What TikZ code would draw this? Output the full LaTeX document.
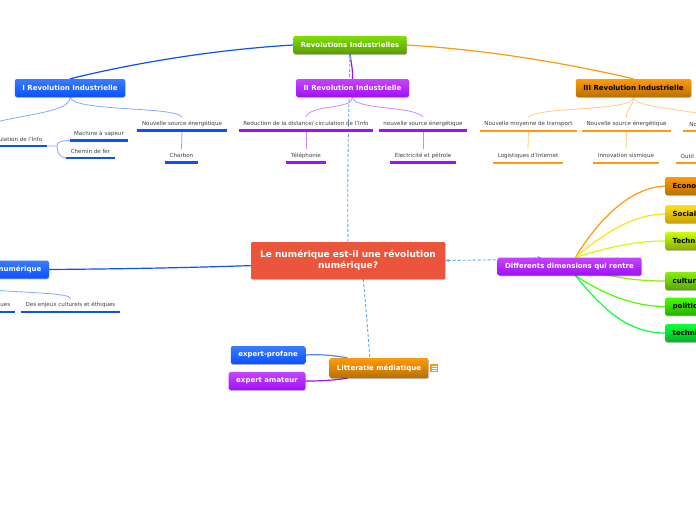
\documentclass[tikz,border=0pt]{standalone}
\usepackage{fontspec}
\setmainfont{DejaVu Sans}
\usepackage{tikz}
\usetikzlibrary{arrows.meta, shadows, backgrounds}

\definecolor{mapblue}{HTML}{0A50FF}
\definecolor{mapbluetop}{HTML}{3A7CFF}
\definecolor{mappurple}{HTML}{A010F8}
\definecolor{mappurpletop}{HTML}{C445FF}
\definecolor{maporange}{HTML}{FF9A0A}
\definecolor{maporangelow}{HTML}{B87000}
\definecolor{mapgreentop}{HTML}{7EE000}
\definecolor{mapgreenlow}{HTML}{5A9C00}
\definecolor{mapyellow}{HTML}{FFE21A}
\definecolor{mapyellowlow}{HTML}{C4A400}
\definecolor{maplime}{HTML}{CCFF00}
\definecolor{maplimelow}{HTML}{88AC00}
\definecolor{mapleaf}{HTML}{88EE10}
\definecolor{mapleaflow}{HTML}{58A800}
\definecolor{mapgrass}{HTML}{48FF00}
\definecolor{mapgrasslow}{HTML}{24AE00}
\definecolor{mapmint}{HTML}{0CFF3A}
\definecolor{mapmintlow}{HTML}{00B428}
\definecolor{mapred}{HTML}{EA553C}
\definecolor{mapdash}{HTML}{5AA8E8}

\tikzset{
  topicbox/.style 2 args={rectangle, rounded corners=2pt, top color=#1, bottom color=#2,
    minimum height=18pt, inner xsep=7.5pt, inner ysep=0pt, text=white,
    font=\fontsize{7}{8.5}\selectfont\bfseries,
    drop shadow={shadow xshift=0.5pt, shadow yshift=-0.8pt, opacity=0.25, fill=black}},
  leaf/.style={inner xsep=4.5pt, inner ysep=0pt, minimum height=13pt, anchor=south, text=black!75,
    font=\fontsize{5.55}{6}\selectfont, append after command={
      (\tikzlastnode.south west) edge[line width=2.4pt, #1] (\tikzlastnode.south east)}},
  link/.style={line width=1.2pt, #1},
  sublink/.style={line width=0.8pt, #1!50},
  dashlink/.style={line width=0.9pt, mapdash, dash pattern=on 3pt off 2pt},
}

\begin{document}
\begin{tikzpicture}[x=1pt, y=-1pt]
  \path[use as bounding box, clip] (0,0) rectangle (696,520);

  % Centre
  \node[rectangle, rounded corners=1pt, fill=mapred, text=white, align=center,
    minimum width=194pt, minimum height=37pt, inner sep=0pt, font=\fontsize{9}{11}\selectfont\bfseries,
    drop shadow={shadow xshift=0.5pt, shadow yshift=-0.8pt, opacity=0.25, fill=black}] (root) at (348,260.5)
    {Le numérique est-il une révolution\\numérique?};

  % Revolutions
  \node[topicbox={mapgreentop}{mapgreenlow}] (top) at (350,45) {Revolutions Industrielles};
  \node[topicbox={mapbluetop}{mapblue}] (irev) at (70,88) {I Revolution Industrielle};
  \node[topicbox={mappurpletop}{mappurple}] (iirev) at (352.5,88) {II Revolution Industrielle};
  \node[topicbox={maporange}{maporangelow}, text=black] (iiirev) at (633.5,88) {III Revolution Industrielle};

  % Branches I
  \coordinate (circtop) at (-12,124);
  \coordinate (circfork) at (57,146);
  \node[leaf=mapblue, anchor=south east] (circ) at (47,146) {ulation de l'Info};
  \node[leaf=mapblue] (vapeur) at (99,140.5) {Machine à vapeur};
  \node[leaf=mapblue] (fer) at (90.5,158) {Chemin de fer};
  \node[leaf=mapblue] (sourcei) at (182,130.5) {Nouvelle source énergétique};
  \node[leaf=mapblue] (charbon) at (181.5,162.5) {Charbon};

  % Branches II
  \node[leaf=mappurple] (reduc) at (306,130.5) {Reduction de la distance/ circulation de l'Info};
  \node[leaf=mappurple] (sourceii) at (423,130.5) {nouvelle source énergétique};
  \node[leaf=mappurple] (tel) at (306,162.5) {Téléphonie};
  \node[leaf=mappurple] (elec) at (423,162.5) {Electricité et pétrole};

  % Branches III
  \coordinate (noutop) at (702,114);
  \node[leaf=maporange] (trans) at (528.5,131) {Nouvelle moyenne de transport};
  \node[leaf=maporange] (sourceiii) at (626.5,131) {Nouvelle source énergétique};
  \node[leaf=maporange, anchor=south west, minimum width=20pt, align=left] (nou) at (683,131) {No};
  \node[leaf=maporange] (logi) at (528,163) {Logistiques d'Internet};
  \node[leaf=maporange] (sism) at (626,163) {Innovation sismique};
  \node[leaf=maporange, anchor=south west] (outil) at (676,163) {Outil};

  % Numerique a gauche
  \coordinate (numtop) at (-8,290);
  \node[topicbox={mapbluetop}{mapblue}, anchor=east] (num) at (49,269.5) {numérique};
  \node[leaf=mapblue, anchor=south east] (ues) at (15,312) {ues};
  \node[leaf=mapblue] (enjeux) at (70.5,312) {Des enjeux culturels et éthiques};

  % Dimensions a droite
  \node[topicbox={mappurpletop}{mappurple}] (diff) at (569.5,266.5) {Differents dimensions qui rentre};
  \node[topicbox={maporange}{maporangelow}, text=black, anchor=west] (econ) at (665,186) {Econo};
  \node[topicbox={mapyellow}{mapyellowlow}, text=black, anchor=west] (soc) at (665,214) {Social};
  \node[topicbox={maplime}{maplimelow}, text=black, anchor=west] (tech) at (665,241) {Techn};
  \node[topicbox={mapleaf}{mapleaflow}, text=black, anchor=west] (cult) at (665,281) {cultur};
  \node[topicbox={mapgrass}{mapgrasslow}, text=black, anchor=west] (poli) at (665,306.5) {politic};
  \node[topicbox={mapmint}{mapmintlow}, text=black, anchor=west] (techni) at (665,333) {techni};

  % Litteratie
  \node[topicbox={maporange}{maporangelow}, minimum height=20pt] (lit) at (379,368) {Litteratie médiatique};
  \node[topicbox={mapbluetop}{mapblue}] (profane) at (268,355) {expert-profane};
  \node[topicbox={mappurpletop}{mappurple}] (amateur) at (267,381) {expert amateur};
  \node[fill=maporange, minimum size=8pt, inner sep=0pt] (notes) at (434,368) {};
  \draw[white, line width=0.4pt] (431.5,366) -- (436.5,366) (431.5,368) -- (436.5,368) (431.5,370) -- (436.5,370);

  \begin{scope}[on background layer]
  \fill[white] (0,0) rectangle (696,520);

  % Liens pointilles
  \draw[dashlink] (root.north) .. controls (347,170) and (349,110) .. (top.south);
  \draw[dashlink] (root.-51) .. controls (366,305) and (368,335) .. (lit.132);
  \draw[dashlink, {Stealth[length=4pt]}-{Stealth[length=4pt]}] (root.east) .. controls (480,260) and (515,260) .. (diff.162);

  % Liens principaux
  \draw[link=mapblue] (top.west) .. controls (210,50) and (130,64) .. (irev.north);
  \draw[link=maporange] (top.east) .. controls (490,50) and (570,64) .. (iiirev.north);
  \draw[link=mappurple] (iirev.north) .. controls (353,70) and (351,62) .. (top.south);
  \draw[link=mapblue] (root.183) .. controls (180,268) and (110,269) .. (num.east);
  \draw[link=mapblue!70!white] (profane.east) .. controls (325,354) and (335,356) .. (lit.162);
  \draw[link=mappurple] (amateur.east) .. controls (325,381) and (335,380) .. (lit.-162);

  % Liens dimensions
  \draw[link=maporange] (diff.57) .. controls (597,222) and (628,188) .. (econ.west);
  \draw[link=mapyellow] (diff.57) .. controls (605,232) and (635,214) .. (soc.west);
  \draw[link=maplime] (diff.57) .. controls (600,250) and (630,241) .. (tech.west);
  \draw[link=mapleaf] (diff.center) .. controls (610,276) and (630,281) .. (cult.west);
  \draw[link=mapgrass] (diff.-57) .. controls (605,295) and (635,306.5) .. (poli.west);
  \draw[link=mapmint] (diff.-57) .. controls (600,305) and (625,333) .. (techni.west);

  % Sous-liens
  \draw[sublink=mapblue] (irev.south) .. controls (70,112) and (30,113) .. (circtop);
  \draw[sublink=mapblue] (irev.south) .. controls (74,112) and (175,106) .. (sourcei.north);
  \draw[sublink=mapblue] (circ.south east) -- (circfork) .. controls (57,141.5) and (62,140.5) .. (vapeur.south west);
  \draw[sublink=mapblue] (circfork) .. controls (57,152) and (60,158) .. (fer.south west);
  \draw[sublink=mapblue] (sourcei.south) -- (charbon.north);
  \draw[sublink=mappurple] (iirev.south) .. controls (353,110) and (310,104) .. (reduc.north);
  \draw[sublink=mappurple] (iirev.south) .. controls (353,110) and (416,106) .. (sourceii.north);
  \draw[sublink=mappurple] (reduc.south) -- (tel.north);
  \draw[sublink=mappurple] (sourceii.south) -- (elec.north);
  \draw[sublink=maporange] (iiirev.south) .. controls (634,112) and (535,106) .. (trans.north);
  \draw[sublink=maporange] (iiirev.south) .. controls (634,106) and (626,108) .. (sourceiii.north);
  \draw[sublink=maporange] (iiirev.south) .. controls (634,106) and (670,108) .. (noutop);
  \draw[sublink=maporange] (trans.south) -- (logi.north);
  \draw[sublink=maporange] (sourceiii.south) -- (sism.north);
  \draw[sublink=mapblue] (numtop) .. controls (30,293) and (70,293) .. (enjeux.north);
  \end{scope}

  % Pointe sur le noeud du haut
  \coordinate (toptip) at (350,60);
  \draw[dashlink, -{Stealth[length=4pt]}] (toptip) -- (top.south);
\end{tikzpicture}
\end{document}
